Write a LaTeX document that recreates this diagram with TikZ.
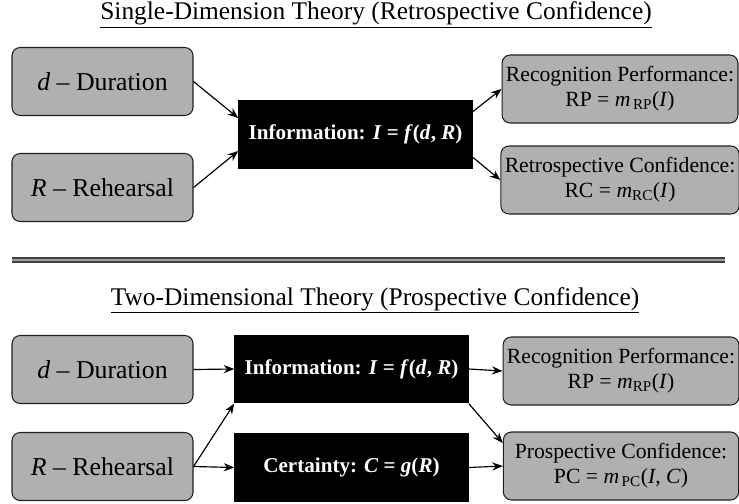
\documentclass[tikz,border=0pt]{standalone}
\usepackage{fontspec}
\setmainfont{Liberation Serif}
\usetikzlibrary{arrows.meta}

\newcommand{\vr}[1]{\textit{#1}}
\newcommand{\bvr}[1]{\textbf{\textit{#1}}}

\begin{document}
\begin{tikzpicture}[x=0.03cm,y=-0.03cm,
	inbox/.style={draw=gray!25!black, fill=gray!62, line width=0.9pt, rounded corners=7pt,
		minimum width=5.43cm, minimum height=2.04cm, align=center,
		font=\fontsize{22}{25}\selectfont},
	outbox/.style={inbox, minimum width=7.06cm, font=\fontsize{18.5}{21.5}\selectfont},
	infobox/.style={fill=black, text=white, minimum width=7.02cm, minimum height=2.06cm,
		font=\bfseries\fontsize{18}{21}\selectfont},
	heading/.style={anchor=base, font=\fontsize{21.7}{25}\selectfont},
	link/.style={-{Stealth[length=9pt,width=7pt]}, line width=1pt}]
	\useasboundingbox (0,0) rectangle (739,503);

	\node[heading] (title1) at (376,20) {\underline{Single-Dimension Theory (Retrospective Confidence)}};
	\node[inbox] (dDur1) at (102.5,81.5) {\vr{d} -- Duration};
	\node[inbox] (Reh1) at (102.5,187.5) {\vr{R} -- Rehearsal};
	\node[infobox] (Info1) at (355.5,134.5) {Information: \bvr{I} = \bvr{f}(\bvr{d}, \bvr{R})};
	\node[outbox] (RP1) at (620,89) {Recognition Performance:\\ RP = \vr{m}\textsubscript{\,RP}(\vr{I})};
	\node[outbox] (RC1) at (620,180) {Retrospective Confidence:\\ RC = \vr{m}\textsubscript{RC}(\vr{I})};
	\draw[link] (dDur1.east) -- (Info1.172);
	\draw[link] (Reh1.east) -- (Info1.188);
	\draw[link] (Info1.11) -- (RP1.west);
	\draw[link] (Info1.-11) -- (RC1.west);

	\draw[gray!50!black, line width=1.8pt, double=gray!75, double distance=1.5pt] (12,260) -- (725,260);

	\node[heading] (title2) at (375,305) {\underline{Two-Dimensional Theory (Prospective Confidence)}};
	\node[inbox] (dDur2) at (102.5,369.5) {\vr{d} -- Duration};
	\node[inbox] (Reh2) at (102.5,466.5) {\vr{R} -- Rehearsal};
	\node[infobox] (Info2) at (351.5,369) {Information: \bvr{I} = \bvr{f}(\bvr{d}, \bvr{R})};
	\node[infobox] (Cert2) at (351.5,467.5) {Certainty: \bvr{C} = \bvr{g}(\bvr{R})};
	\node[outbox] (RP2) at (621,371) {Recognition Performance:\\ RP = \vr{m}\textsubscript{RP}(\vr{I})};
	\node[outbox] (PC2) at (621,466) {Prospective Confidence:\\ PC = \vr{m}\textsubscript{\,PC}(\vr{I}, \vr{C})};
	\draw[link] (dDur2.east) -- (Info2.west);
	\draw[link] (Reh2.east) -- (Info2.south west);
	\draw[link] (Reh2.east) -- (Cert2.west);
	\draw[link] (Info2.east) -- (RP2.west);
	\draw[link] (Info2.south east) -- (PC2.169);
	\draw[link] (Cert2.east) -- (PC2.west);
\end{tikzpicture}
\end{document}
